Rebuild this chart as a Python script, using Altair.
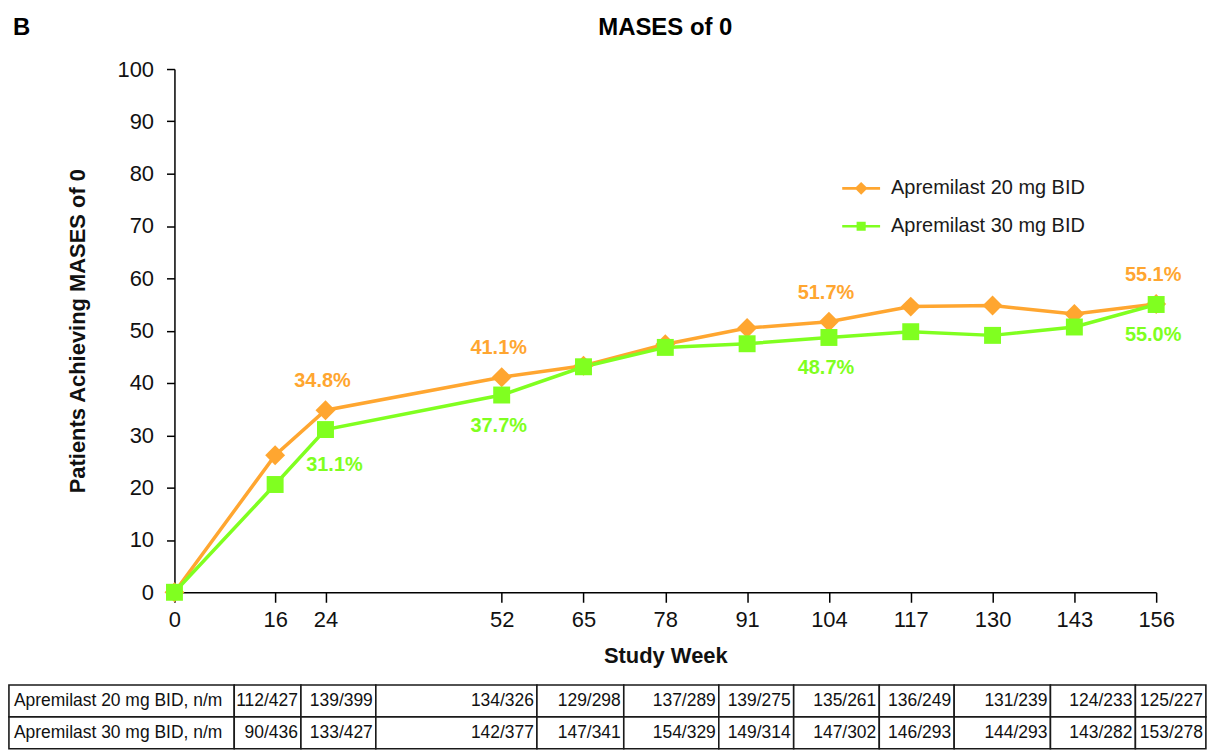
import altair as alt
import pandas as pd

# ---------------- data ----------------
weeks = [0, 16, 24, 52, 65, 78, 91, 104, 117, 130, 143, 156]
series_names = ["Apremilast 20 mg BID", "Apremilast 30 mg BID"]
pct_20mg = [0, 26.2, 34.8, 41.1, 43.3, 47.4, 50.5, 51.7, 54.6, 54.8, 53.2, 55.1]
pct_30mg = [0, 20.6, 31.1, 37.7, 43.1, 46.8, 47.5, 48.7, 49.8, 49.1, 50.7, 55.0]
labelled_weeks = [24, 52, 104, 156]

table_row_labels = ["Apremilast 20 mg BID, n/m", "Apremilast 30 mg BID, n/m"]
nm_20mg = ["112/427", "139/399", "134/326", "129/298", "137/289", "139/275",
           "135/261", "136/249", "131/239", "124/233", "125/227"]
nm_30mg = ["90/436", "133/427", "142/377", "147/341", "154/329", "149/314",
           "147/302", "146/293", "144/293", "143/282", "153/278"]

y_tick_values = [0, 10, 20, 30, 40, 50, 60, 70, 80, 90, 100]

chart_title = "MASES of 0"
panel_letter = "B"
x_title = "Study Week"
y_title = "Patients Achieving MASES of 0"

# ---------------- layout / style ----------------
# table column borders, in study-week units of the shared x scale
table_col_edges = [-26.3, 9.5, 20.1, 32.0, 57.6, 71.4, 86.5, 98.4, 112.0,
                   123.9, 139.2, 152.7, 163.9]
FONT = "Liberation Sans"
ORANGE = "#FFA630"
GREEN = "#80FF20"
W, H = 985, 525
TABLE_H = 64

# ---------------- tables ----------------
rows = []
for name, vals in zip(series_names, [pct_20mg, pct_30mg]):
    for w, v in zip(weeks, vals):
        rows.append({"series": name, "week": w, "pct": v})
df = pd.DataFrame(rows)

cells = []
for r, (lab, vals) in enumerate(zip(table_row_labels, [nm_20mg, nm_30mg])):
    cells.append({"row": r, "kind": "label", "text": lab,
                  "x0": table_col_edges[0], "x1": table_col_edges[1]})
    for c, v in enumerate(vals):
        cells.append({"row": r, "kind": "value", "text": v,
                      "x0": table_col_edges[c + 1], "x1": table_col_edges[c + 2]})
table_df = pd.DataFrame(cells)

# ---------------- scales ----------------
def xscale():
    return alt.Scale(domain=[0, 156], nice=False, zero=False)

x_axis = alt.Axis(values=weeks, title=x_title, labelFontSize=22, titleFontSize=22,
                  titleFontWeight="bold", tickSize=10, labelPadding=7, titlePadding=15,
                  labelFlush=False, labelOverlap=False, grid=False)
y_axis = alt.Axis(values=y_tick_values, title=y_title, labelFontSize=22, titleFontSize=22,
                  titleFontWeight="bold", tickSize=8, labelPadding=13, titlePadding=28,
                  grid=False)

base = alt.Chart(df).encode(
    x=alt.X("week:Q", scale=xscale(), axis=x_axis),
    y=alt.Y("pct:Q", scale=alt.Scale(domain=[0, 100], nice=False), axis=y_axis),
)

s20 = base.transform_filter(alt.datum.series == series_names[0])
s30 = base.transform_filter(alt.datum.series == series_names[1])

line20 = s20.mark_line(strokeWidth=3.5, color=ORANGE)
line30 = s30.mark_line(strokeWidth=3.5, color=GREEN)
pts20 = s20.mark_point(filled=True, opacity=1, strokeWidth=0, shape="diamond", size=400,
                       color=ORANGE)
pts30 = s30.mark_point(filled=True, opacity=1, strokeWidth=0, shape="square", size=289,
                       color=GREEN)

fmt = "format(datum.pct, '.1f') + '%'"
lab20 = s20.transform_filter(
    alt.FieldOneOfPredicate(field="week", oneOf=labelled_weeks)
).transform_calculate(label=fmt).mark_text(
    fontSize=20, fontWeight="bold", font=FONT, dy=-29, dx=-3, color=ORANGE
).encode(text="label:N")

lab30 = s30.transform_filter(
    alt.FieldOneOfPredicate(field="week", oneOf=labelled_weeks[1:])
).transform_calculate(label=fmt).mark_text(
    fontSize=20, fontWeight="bold", font=FONT, dy=31, dx=-3, color=GREEN
).encode(text="label:N")

lab30_first = s30.transform_filter(
    alt.datum.week == labelled_weeks[0]
).transform_calculate(label=fmt).mark_text(
    fontSize=20, fontWeight="bold", font=FONT, dy=36, dx=9, color=GREEN
).encode(text="label:N")

PATH_D = "M-1,-0.07L1,-0.07L1,0.07L-1,0.07Z M0,-0.34L0.34,0L0,0.34L-0.34,0Z"
PATH_S = "M-1,-0.07L1,-0.07L1,0.07L-1,0.07Z M-0.24,-0.24L0.24,-0.24L0.24,0.24L-0.24,0.24Z"

leg = alt.Legend(title=None, orient="none", legendX=670, legendY=100.7, symbolSize=1444,
                 labelFontSize=20, labelFont=FONT, labelColor="#1a1a1a", labelOffset=11,
                 labelLimit=0, rowPadding=9, padding=0, symbolStrokeWidth=0, symbolOpacity=1,
                 symbolFillColor="#888888")

legend_layer = alt.Chart(df).transform_filter("false").mark_point(filled=True, opacity=1).encode(
    fill=alt.Fill("series:N", scale=alt.Scale(domain=series_names, range=[ORANGE, GREEN]),
                  legend=leg),
    shape=alt.Shape("series:N", scale=alt.Scale(domain=series_names, range=[PATH_D, PATH_S]),
                    legend=leg),
)

letter = alt.Chart(pd.DataFrame({"t": [panel_letter]})).mark_text(
    align="left", baseline="alphabetic", fontSize=24, fontWeight="bold", font=FONT, color="black"
).encode(text="t:N", x=alt.value(-162), y=alt.value(-34))

title_mark = alt.Chart(pd.DataFrame({"t": [chart_title]})).mark_text(
    align="center", baseline="alphabetic", fontSize=24, fontWeight="bold", font=FONT, color="black"
).encode(text="t:N", x=alt.value(W / 2), y=alt.value(-34))

top = alt.layer(line20, line30, pts20, pts30, lab20, lab30, lab30_first, legend_layer, letter,
                title_mark).properties(width=W, height=H)

# ---------------- table ----------------
tbase = alt.Chart(table_df).encode(
    y=alt.Y("row:O", axis=None, scale=alt.Scale(paddingInner=0, paddingOuter=0)),
)
t_rect = tbase.mark_rect(fill="white", stroke="#1a1a1a", strokeWidth=1.6).encode(
    x=alt.X("x0:Q", scale=xscale(), axis=None), x2="x1:Q"
)
t_lab = tbase.transform_filter(alt.datum.kind == "label").mark_text(
    align="left", dx=5, fontSize=17.5, font=FONT, color="#111"
).encode(x=alt.X("x0:Q", scale=xscale(), axis=None), text="text:N")
t_val = tbase.transform_filter(alt.datum.kind == "value").mark_text(
    align="right", dx=-3, fontSize=17.5, font=FONT, color="#111"
).encode(x=alt.X("x1:Q", scale=xscale(), axis=None), text="text:N")

table = alt.layer(t_rect, t_lab, t_val).properties(width=W, height=TABLE_H)

chart = alt.vconcat(top, table, spacing=18).properties(
    padding={"left": 0, "top": 7, "right": 0, "bottom": 0}
).configure(font=FONT).configure_view(stroke=None).configure_axis(
    domainColor="black", tickColor="black", domainWidth=1.5, tickWidth=1.5,
    labelColor="#111", titleColor="#111", labelFont=FONT, titleFont=FONT
)

chart.save("out.html", embed_options={"renderer": "svg", "actions": False})
